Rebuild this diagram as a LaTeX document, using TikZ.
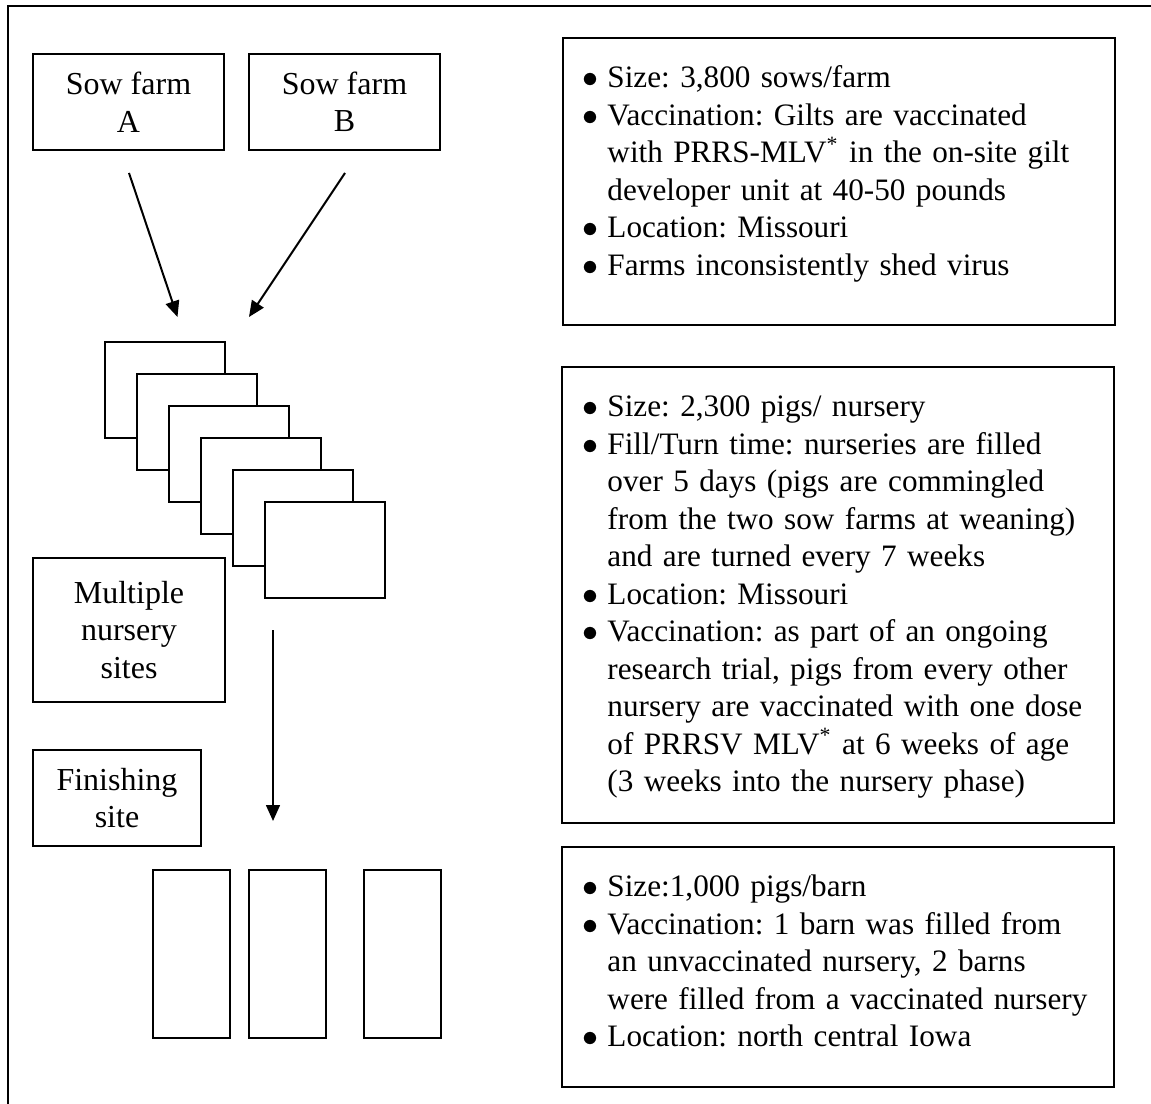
\documentclass[tikz,border=0pt]{standalone}
\usepackage{fontspec}
\setmainfont{Liberation Serif}
\usetikzlibrary{arrows.meta, positioning}

\newcommand{\pxl}{0.375pt}
\newcommand{\bitem}[1]{\par\hangindent=9.2pt\hangafter=1\noindent\makebox[9.2pt][l]{$\bullet$}#1}

\begin{document}
\begin{tikzpicture}[
        x=0.375pt, y=-0.375pt,
        >={Triangle[length=6pt, width=5.2pt]},
        every node/.style={font=\fontsize{12}{14.06}\selectfont},
        site/.style={draw, line width=0.8pt, align=center, inner sep=0pt},
        unit/.style={draw, line width=0.8pt, fill=white, minimum width=120*\pxl, minimum height=96*\pxl},
        barn/.style={draw, line width=0.8pt, minimum width=77*\pxl, minimum height=168*\pxl},
        panel/.style={draw, line width=0.8pt, anchor=north west, inner sep=0pt},
        info/.style={anchor=north west, inner sep=0pt, text width=195pt,
            font=\fontsize{11.7}{14.06}\selectfont},
        flow/.style={->, line width=0.75pt}
    ]
    \useasboundingbox (0,0) rectangle (1151,1104);
    \draw[line width=1.1pt] (8,1110) -- (8,6) -- (1160,6);

    % left column
    \node[site, minimum width=191*\pxl, minimum height=96*\pxl] (sowA) at (128.5,102) {Sow farm\\A};
    \node[site, minimum width=191*\pxl, minimum height=96*\pxl] (sowB) at (344.5,102) {Sow farm\\B};
    \foreach \i in {0,...,5}
        \node[unit] (nur\i) at ({164.6+32*\i},{390+32*\i}) {};
    \node[site, minimum width=192*\pxl, minimum height=144*\pxl] (multi) at (129,630) {Multiple\\nursery\\sites};
    \node[site, minimum width=168*\pxl, minimum height=96*\pxl] (finish) at (117,798) {Finishing\\site};
    \node[barn] (barn1) at (191.5,954) {};
    \node[barn] (barn2) at (287.5,954) {};
    \node[barn] (barn3) at (402.5,954) {};

    \coordinate (aOut) at (129,173);
    \coordinate (aIn) at (177.5,317);
    \coordinate (bOut) at (345,173);
    \coordinate (bIn) at (249,317);
    \coordinate (dOut) at (273,630);
    \coordinate (dIn) at (273,821);
    \draw[flow] (aOut) -- (aIn);
    \draw[flow] (bOut) -- (bIn);
    \draw[flow] (dOut) -- (dIn);

    % right column
    \node[panel, minimum width=552*\pxl, minimum height=287*\pxl] (sowpanel) at (562,37) {};
    \node[info] (sowtext) at (582.4,49.7) {\raggedright\frenchspacing
        \bitem{\rule{0pt}{11pt}Size: 3,800 sows/farm}
        \bitem{Vaccination: Gilts are vaccinated\newline with PRRS-MLV\textsuperscript{*} in the on-site gilt\newline developer unit at 40-50 pounds}
        \bitem{Location: Missouri}
        \bitem{Farms inconsistently shed virus}\par};

    \node[panel, minimum width=552*\pxl, minimum height=456*\pxl] (nurpanel) at (561,366) {};
    \node[info] (nurtext) at (582.4,378.7) {\raggedright\frenchspacing
        \bitem{\rule{0pt}{11pt}Size: 2,300 pigs/ nursery}
        \bitem{Fill/Turn time: nurseries are filled\newline over 5 days (pigs are commingled\newline from the two sow farms at weaning)\newline and are turned every 7 weeks}
        \bitem{Location: Missouri}
        \bitem{Vaccination: as part of an ongoing\newline research trial, pigs from every other\newline nursery are vaccinated with one dose\newline of PRRSV MLV\textsuperscript{*} at 6 weeks of age\newline (3 weeks into the nursery phase)}\par};

    \node[panel, minimum width=552*\pxl, minimum height=240*\pxl] (finpanel) at (561,846) {};
    \node[info] (fintext) at (582.4,858.7) {\raggedright\frenchspacing
        \bitem{\rule{0pt}{11pt}Size:1,000 pigs/barn}
        \bitem{Vaccination: 1 barn was filled from\newline an unvaccinated nursery, 2 barns\newline were filled from a vaccinated nursery}
        \bitem{Location: north central Iowa}\par};
\end{tikzpicture}
\end{document}
